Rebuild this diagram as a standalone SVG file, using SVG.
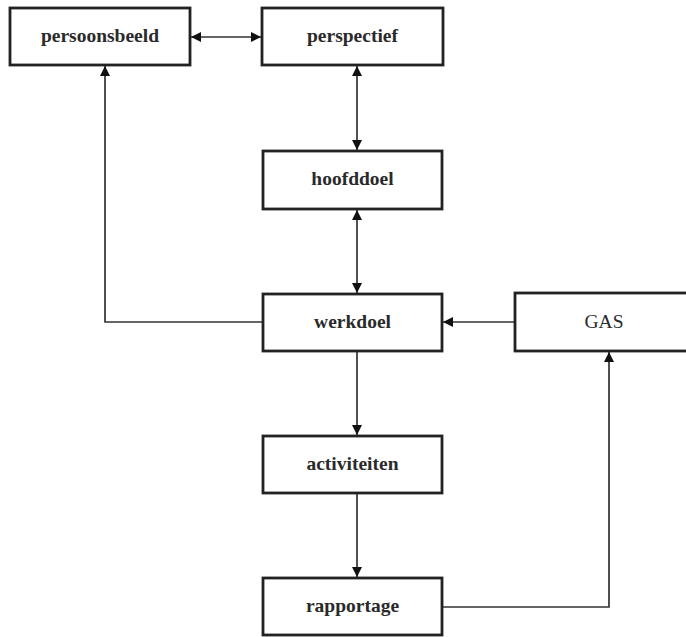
<svg xmlns="http://www.w3.org/2000/svg" width="686" height="637" viewBox="0 0 686 637">
<style>
.box{fill:#fff;stroke:#222;stroke-width:2.8}
.lbl{font-family:"Liberation Serif","DejaVu Serif",serif;font-size:19.5px;font-weight:bold;fill:#2a2a2a;text-anchor:middle}
.lbl2{font-family:"Liberation Serif","DejaVu Serif",serif;font-size:19.5px;fill:#2a2a2a;text-anchor:middle}
.con{fill:none;stroke:#333;stroke-width:1.7}
</style>
<defs>
<marker id="ah" viewBox="0 0 10 10" refX="10" refY="5" markerWidth="10" markerHeight="10" markerUnits="userSpaceOnUse" orient="auto-start-reverse">
<path d="M0,0 L10,5 L0,10 Z" fill="#111"/>
</marker>
</defs>
<g id="connectors">
<line class="con" x1="191" y1="37" x2="261" y2="37" marker-start="url(#ah)" marker-end="url(#ah)"/>
<line class="con" x1="357" y1="66" x2="357" y2="150" marker-start="url(#ah)" marker-end="url(#ah)"/>
<line class="con" x1="357" y1="210" x2="357" y2="293" marker-start="url(#ah)" marker-end="url(#ah)"/>
<polyline class="con" points="262,322 105,322 105,66" marker-end="url(#ah)"/>
<line class="con" x1="514" y1="322" x2="443" y2="322" marker-end="url(#ah)"/>
<line class="con" x1="357" y1="352" x2="357" y2="435" marker-end="url(#ah)"/>
<line class="con" x1="357" y1="494" x2="357" y2="577" marker-end="url(#ah)"/>
<polyline class="con" points="443,607 609,607 609,352" marker-end="url(#ah)"/>
</g>
<g id="persoonsbeeld"><rect class="box" x="10" y="8" width="180" height="57"/><text class="lbl" x="100" y="42">persoonsbeeld</text></g>
<g id="perspectief"><rect class="box" x="262" y="8" width="181" height="57"/><text class="lbl" x="352.5" y="42">perspectief</text></g>
<g id="hoofddoel"><rect class="box" x="263" y="151" width="179" height="58"/><text class="lbl" x="352.5" y="185">hoofddoel</text></g>
<g id="werkdoel"><rect class="box" x="263" y="294" width="179" height="57"/><text class="lbl" x="352.5" y="328">werkdoel</text></g>
<g id="GAS"><rect class="box" x="515" y="293" width="180" height="58"/><text class="lbl2" x="604" y="328">GAS</text></g>
<g id="activiteiten"><rect class="box" x="263" y="436" width="179" height="57"/><text class="lbl" x="352.5" y="470">activiteiten</text></g>
<g id="rapportage"><rect class="box" x="263" y="578" width="179" height="57"/><text class="lbl" x="352.5" y="612">rapportage</text></g>
</svg>
